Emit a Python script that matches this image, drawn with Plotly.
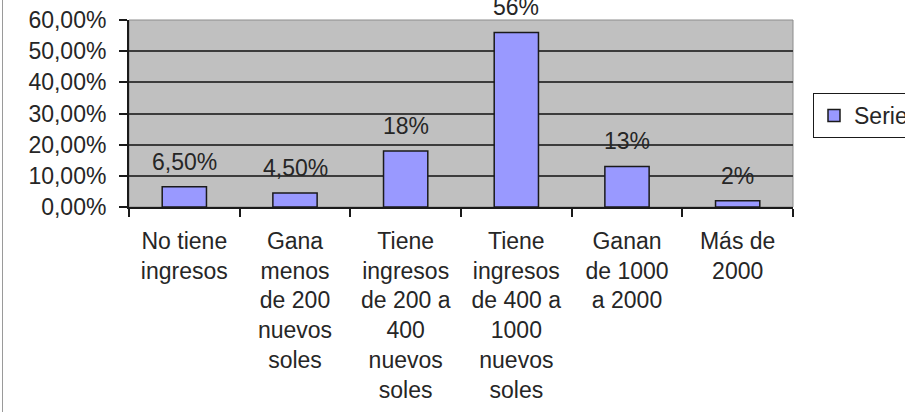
import plotly.graph_objects as go

# Income distribution by bracket
categories = [
    "No tiene<br>ingresos",
    "Gana<br>menos<br>de 200<br>nuevos<br>soles",
    "Tiene<br>ingresos<br>de 200 a<br>400<br>nuevos<br>soles",
    "Tiene<br>ingresos<br>de 400 a<br>1000<br>nuevos<br>soles",
    "Ganan<br>de 1000<br>a 2000",
    "Más de<br>2000",
]
values = [0.065, 0.045, 0.18, 0.56, 0.13, 0.02]
value_labels = ["6,50%", "4,50%", "18%", "56%", "13%", "2%"]
tick_vals = [0, 0.1, 0.2, 0.3, 0.4, 0.5, 0.6]

FONT = "Liberation Sans, Arial, sans-serif"
TEXT = "#262626"

L, R, T, B = 129, 112, 20, 205
W, H = 905, 412
PW, PH = W - L - R, H - T - B

fig = go.Figure()
fig.add_trace(go.Bar(
    x=categories,
    y=values,
    name="Serie1",
    marker=dict(color="#9999FF", line=dict(color="#1a1a1a", width=1.5)),
    hoverinfo="skip",
))

# value labels floating above each bar
for cat, v, lab in zip(categories, values, value_labels):
    fig.add_annotation(
        x=cat, y=v, text=lab, showarrow=False,
        yanchor="middle", yshift=25,
        font=dict(family=FONT, size=23, color=TEXT),
    )

# plot-area outline
fig.add_shape(type="rect", xref="paper", yref="paper", x0=0, y0=0, x1=1, y1=1,
              line=dict(color="#8c8c8c", width=1), layer="below")
# chart frame on the left edge
fx = (2.5 - L) / PW
fig.add_shape(type="line", xref="paper", yref="paper",
              x0=fx, x1=fx, y0=-B / PH, y1=1 + T / PH,
              line=dict(color="#9a9a9a", width=1))

fig.update_layout(
    width=W, height=H,
    margin=dict(l=L, r=R, t=T, b=B, autoexpand=False),
    paper_bgcolor="white",
    plot_bgcolor="#C0C0C0",
    separators=",.",
    bargap=0.6,
    showlegend=True,
    legend=dict(
        x=(813 - L) / PW, y=(T + PH - 93) / PH, xanchor="left", yanchor="top",
        bordercolor="#1a1a1a", borderwidth=1, bgcolor="white",
        font=dict(family=FONT, size=23, color=TEXT),
    ),
    font=dict(family=FONT, size=23, color=TEXT),
)

fig.update_yaxes(
    range=[0, 0.6],
    tickvals=tick_vals,
    tickformat=".2%",
    showgrid=True, gridcolor="#3c3c3c", gridwidth=2,
    showline=True, linecolor="#1a1a1a", linewidth=2,
    ticks="outside", ticklen=8, tickcolor="#1a1a1a", tickwidth=2,
    ticklabelstandoff=8,
    zeroline=False,
    tickfont=dict(family=FONT, size=23, color=TEXT),
)
fig.update_xaxes(
    showline=True, linecolor="#1a1a1a", linewidth=2,
    ticks="outside", ticklen=8, tickcolor="#1a1a1a", tickwidth=2,
    tickson="boundaries",
    tickangle=0,
    ticklabelstandoff=12,
    tickfont=dict(family=FONT, size=23, color=TEXT),
)

fig.write_html("out.html")
